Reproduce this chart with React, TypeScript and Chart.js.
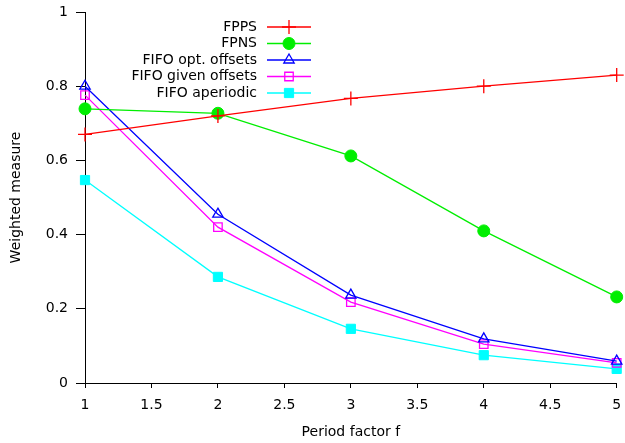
import React, { useEffect, useRef } from "react";
import { Chart, registerables } from "chart.js";
import { drawPoint } from "chart.js/helpers";
Chart.register(...registerables);

const periodFactors = [1, 2, 3, 4, 5];
const fpps = [0.67, 0.72, 0.767, 0.8, 0.83];
const fpns = [0.739, 0.727, 0.612, 0.41, 0.232];
const fifoOpt = [0.8, 0.455, 0.237, 0.119, 0.059];
const fifoGiven = [0.776, 0.42, 0.218, 0.105, 0.054];
const fifoAperiodic = [0.547, 0.286, 0.146, 0.075, 0.038];
const xTicks = [1, 1.5, 2, 2.5, 3, 3.5, 4, 4.5, 5];
const yTicks = [0, 0.2, 0.4, 0.6, 0.8, 1];

const FONT = "'DejaVu Sans', sans-serif";
const FS = 14;

function drawPointLocal(ctx: any, ds: any, x: number, y: number) {
  ctx.save();
  ctx.strokeStyle = ds.pointBorderColor ?? ds.borderColor;
  ctx.fillStyle = ds.pointBackgroundColor;
  ctx.lineWidth = ds.pointBorderWidth ?? 1;
  drawPoint(ctx, { pointStyle: ds.pointStyle, radius: ds.pointRadius, rotation: 0, borderWidth: ds.pointBorderWidth ?? 1 } as any, x, y);
  ctx.restore();
}

const legendPlugin = {
  id: "gpLegend",
  afterDraw(chart: any) {
    const ctx = chart.ctx;
    const textRight = 257;
    const x0 = 267;
    const x1 = 311;
    const y0 = 27;
    const dy = 16.5;
    ctx.save();
    ctx.font = `${FS}px ${FONT}`;
    ctx.textAlign = "right";
    ctx.textBaseline = "middle";
    chart.data.datasets.forEach((ds: any, i: number) => {
      const y = y0 + i * dy;
      ctx.fillStyle = "#000";
      ctx.fillText(ds.label, textRight, y);
      ctx.strokeStyle = ds.borderColor;
      ctx.lineWidth = ds.borderWidth;
      ctx.beginPath();
      ctx.moveTo(x0, y);
      ctx.lineTo(x1, y);
      ctx.stroke();
      drawPointLocal(ctx, ds, (x0 + x1) / 2, y);
    });
    ctx.restore();
  },
};

export default function App() {
  const ref = useRef<HTMLCanvasElement>(null);
  useEffect(() => {
    document.body.style.margin = "0";
    const mk = (label: string, data: number[], color: string, style: string, radius: number, fill: string, bw = 1) => ({
      label,
      data: periodFactors.map((x, i) => ({ x, y: data[i] })),
      borderColor: color,
      backgroundColor: color,
      borderWidth: 1.3,
      pointStyle: style,
      pointRadius: radius,
      pointHoverRadius: radius,
      pointBackgroundColor: fill,
      pointBorderColor: color,
      pointBorderWidth: bw,
      clip: false,
      tension: 0,
    });
    const chart = new Chart(ref.current!, {
      type: "line",
      data: {
        datasets: [
          mk("FPPS", fpps, "#ff0000", "cross", 7, "#ff0000", 1.3),
          mk("FPNS", fpns, "#00ee00", "circle", 6, "#00ee00", 1),
          mk("FIFO opt. offsets", fifoOpt, "#0000ff", "triangle", 6, "rgba(0,0,0,0)", 1.3),
          mk("FIFO given offsets", fifoGiven, "#ff00ff", "rect", 6, "rgba(0,0,0,0)", 1.3),
          mk("FIFO aperiodic", fifoAperiodic, "#00ffff", "rect", 6.5, "#00ffff", 1),
        ] as any,
      },
      options: {
        animation: false,
        responsive: false,
        maintainAspectRatio: false,
        events: [],
        layout: { padding: { left: 0, right: -2, top: 12, bottom: 0 } },
        plugins: { legend: { display: false }, tooltip: { enabled: false } },
        scales: {
          x: {
            type: "linear",
            min: 1,
            max: 5,
            afterBuildTicks: (s: any) => { s.ticks = xTicks.map((v) => ({ value: v })); },
            afterFit: (s: any) => { s.height = 60; s.paddingLeft = 0; s.paddingRight = 0; },
            ticks: { color: "#000", font: { family: FONT, size: FS }, padding: 9, maxRotation: 0, autoSkip: false, callback: (v: any) => String(v) },
            grid: { drawOnChartArea: false, drawTicks: true, tickLength: 5, color: "#000" },
            border: { color: "#000", width: 1 },
            title: { display: true, text: "Period factor f", color: "#000", font: { family: FONT, size: FS }, padding: { top: 4, bottom: 2 } },
          },
          y: {
            type: "linear",
            min: 0,
            max: 1,
            afterBuildTicks: (s: any) => { s.ticks = yTicks.map((v) => ({ value: v })); },
            afterFit: (s: any) => { s.width = 85; s.paddingTop = 0; s.paddingBottom = 0; },
            ticks: { color: "#000", font: { family: FONT, size: FS }, padding: 8, autoSkip: false, callback: (v: any) => String(v) },
            grid: { drawOnChartArea: false, drawTicks: true, tickLength: 9, color: "#000" },
            border: { color: "#000", width: 1 },
            title: { display: true, text: "Weighted measure", color: "#000", font: { family: FONT, size: FS }, padding: { top: 8, bottom: 14 } },
          },
        },
      } as any,
      plugins: [legendPlugin],
    });
    return () => chart.destroy();
  }, []);
  return (
    <div style={{ width: 625, height: 443 }}>
      <canvas ref={ref} width={625} height={443} style={{ display: "block" }} />
    </div>
  );
}
